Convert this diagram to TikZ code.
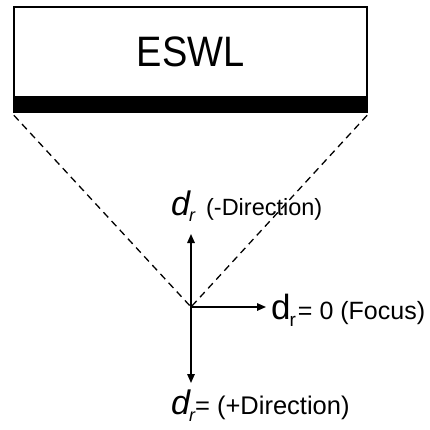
\documentclass[tikz,border=0pt]{standalone}
\usepackage{fontspec}
\setmainfont{Liberation Sans}
\usetikzlibrary{arrows.meta}
\begin{document}
\begin{tikzpicture}[x=1pt,y=-1pt,
  dashline/.style={line width=1.3pt,dash pattern=on 7pt off 5pt},
  axis/.style={line width=1.5pt,-{Triangle[length=9pt,width=7.5pt]}},
  lbl/.style={inner sep=0pt}]
\useasboundingbox (0,0) rectangle (429,430);
% ESWL box
\node[draw,line width=1.8pt,minimum width=353pt,minimum height=90pt,inner sep=0pt,
  font=\fontsize{38}{38}\selectfont] (eswl) at (190.5,52) {\scalebox{1}[1.12]{ESWL}};
\node[fill=black,minimum width=354.8pt,minimum height=15pt,inner sep=0pt,anchor=north]
  (bar) at (eswl.south) {};
\coordinate (f) at (191,307);
\draw[dashline] (bar.south west) ++(1,2) -- (f);
\draw[dashline] (bar.south east) ++(-1,2) -- (f);
% axes
\coordinate (up) at (191,234);
\coordinate (dn) at (191,383);
\coordinate (rt) at (266,307);
\draw[axis] (f) -- (up);
\draw[axis] (f) -- (dn);
\draw[axis] (f) -- (rt);
% labels
\node[lbl,anchor=base west] (lup) at (171,215)
  {\fontsize{34}{34}\selectfont\itshape d\kern-1pt\raisebox{-6pt}{\fontsize{18}{18}\selectfont r}\hspace{11pt}\fontsize{23.5}{23.5}\upshape\selectfont(-Direction)};
\node[lbl,anchor=base west] (lrt) at (271,319)
  {\fontsize{35}{35}\selectfont d\kern-1pt\raisebox{-7pt}{\fontsize{19}{19}\selectfont r}\kern2pt\fontsize{25}{25}\selectfont= 0 (Focus)};
\node[lbl,anchor=base west] (ldn) at (171,414)
  {\fontsize{34}{34}\selectfont\itshape d\kern-1pt\raisebox{-7pt}{\fontsize{18}{18}\selectfont r}\fontsize{25.5}{25.5}\upshape\selectfont= (+Direction)};
\end{tikzpicture}
\end{document}
